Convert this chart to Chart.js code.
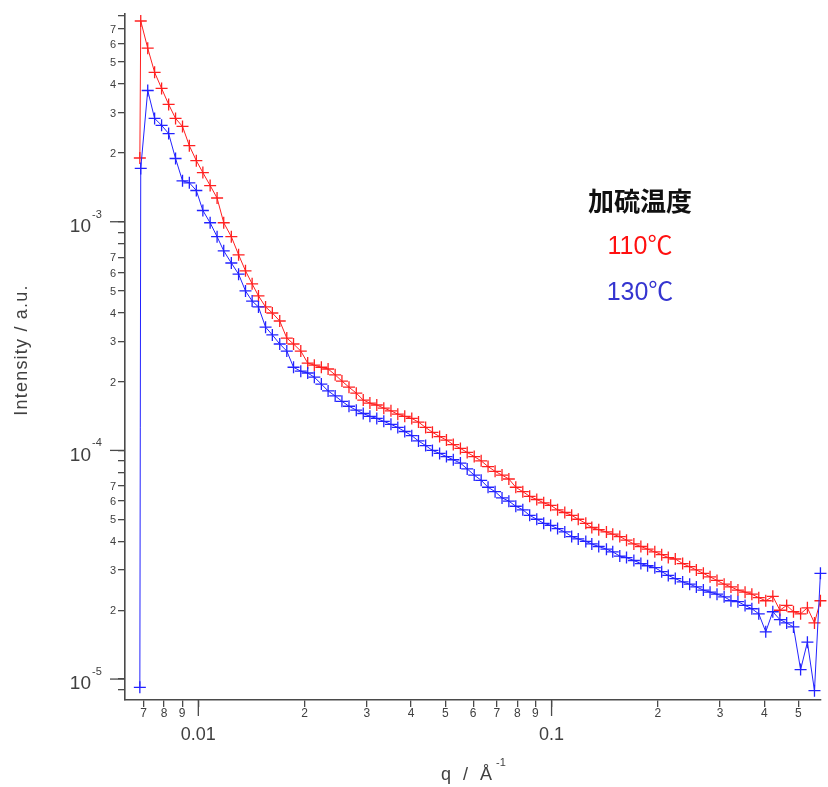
<!DOCTYPE html>
<html>
<head>
<meta charset="utf-8">
<script src="https://cdn.jsdelivr.net/npm/chart.js@4.4.1/dist/chart.umd.min.js"></script>
<style>
  html, body { margin: 0; padding: 0; background: #ffffff; }
  #wrap { width: 828px; height: 787px; position: relative; }
</style>
</head>
<body>
<div id="wrap"><canvas id="c" width="828" height="787"></canvas></div>
<script>
// ---- data ----
const q = [0.00683, 0.00687, 0.00719, 0.00752, 0.00787, 0.00824, 0.00862, 0.00902, 0.00943, 0.00987,
  0.0103, 0.0108, 0.0113, 0.0118, 0.0124, 0.0130, 0.0136, 0.0142, 0.0148, 0.0155,
  0.0162, 0.0170, 0.0178, 0.0186, 0.0195, 0.0204, 0.0213, 0.0223, 0.0233, 0.0244,
  0.0255, 0.0267, 0.0280, 0.0293, 0.0306, 0.0320, 0.0335, 0.0351, 0.0367, 0.0384,
  0.0402, 0.0420, 0.0440, 0.0460, 0.0482, 0.0504, 0.0527, 0.0552, 0.0577, 0.0604,
  0.0632, 0.0661, 0.0692, 0.0724, 0.0757, 0.0792, 0.0829, 0.0867, 0.0908, 0.0950,
  0.0994, 0.104, 0.109, 0.114, 0.119, 0.125, 0.130, 0.136, 0.143, 0.149,
  0.156, 0.163, 0.171, 0.179, 0.187, 0.196, 0.205, 0.214, 0.224, 0.235,
  0.246, 0.257, 0.269, 0.281, 0.294, 0.308, 0.322, 0.337, 0.353, 0.369,
  0.386, 0.404, 0.423, 0.443, 0.463, 0.484, 0.507, 0.530, 0.555, 0.577];

const i110 = [1.9e-3, 7.55e-3, 5.74e-3, 4.5e-3, 3.83e-3, 3.26e-3, 2.83e-3, 2.61e-3, 2.15e-3, 1.85e-3,
  1.64e-3, 1.44e-3, 1.27e-3, 9.9e-4, 8.6e-4, 7.17e-4, 6.1e-4, 5.35e-4, 4.74e-4, 4.24e-4,
  3.99e-4, 3.68e-4, 3.10e-4, 2.92e-4, 2.72e-4, 2.41e-4, 2.36e-4, 2.31e-4, 2.27e-4, 2.14e-4,
  2.01e-4, 1.89e-4, 1.78e-4, 1.66e-4, 1.61e-4, 1.58e-4, 1.53e-4, 1.49e-4, 1.44e-4, 1.41e-4,
  1.38e-4, 1.33e-4, 1.26e-4, 1.20e-4, 1.15e-4, 1.11e-4, 1.06e-4, 1.02e-4, 9.8e-5, 9.4e-5,
  9.0e-5, 8.5e-5, 8.1e-5, 7.8e-5, 7.5e-5, 6.9e-5, 6.6e-5, 6.3e-5, 6.1e-5, 5.9e-5,
  5.75e-5, 5.5e-5, 5.35e-5, 5.2e-5, 5.0e-5, 4.8e-5, 4.6e-5, 4.5e-5, 4.4e-5, 4.3e-5,
  4.2e-5, 4.05e-5, 3.9e-5, 3.8e-5, 3.7e-5, 3.6e-5, 3.5e-5, 3.4e-5, 3.35e-5, 3.2e-5,
  3.1e-5, 3.0e-5, 2.9e-5, 2.8e-5, 2.7e-5, 2.6e-5, 2.53e-5, 2.45e-5, 2.4e-5, 2.35e-5,
  2.27e-5, 2.2e-5, 2.3e-5, 2.0e-5, 2.1e-5, 1.97e-5, 1.93e-5, 2.05e-5, 1.76e-5, 2.2e-5];

const i130 = [9.2e-6, 1.71e-3, 3.75e-3, 2.83e-3, 2.64e-3, 2.43e-3, 1.89e-3, 1.51e-3, 1.48e-3, 1.37e-3,
  1.12e-3, 9.9e-4, 8.6e-4, 7.46e-4, 6.6e-4, 5.9e-4, 4.98e-4, 4.5e-4, 4.24e-4, 3.46e-4,
  3.2e-4, 2.92e-4, 2.72e-4, 2.31e-4, 2.22e-4, 2.18e-4, 2.09e-4, 1.95e-4, 1.82e-4, 1.73e-4,
  1.64e-4, 1.56e-4, 1.50e-4, 1.45e-4, 1.41e-4, 1.38e-4, 1.34e-4, 1.30e-4, 1.26e-4, 1.21e-4,
  1.16e-4, 1.10e-4, 1.05e-4, 1.0e-4, 9.7e-5, 9.4e-5, 9.1e-5, 8.8e-5, 8.3e-5, 7.8e-5,
  7.4e-5, 6.9e-5, 6.6e-5, 6.2e-5, 6.0e-5, 5.7e-5, 5.5e-5, 5.2e-5, 5.0e-5, 4.8e-5,
  4.7e-5, 4.55e-5, 4.4e-5, 4.2e-5, 4.1e-5, 4.0e-5, 3.9e-5, 3.8e-5, 3.7e-5, 3.6e-5,
  3.45e-5, 3.4e-5, 3.3e-5, 3.2e-5, 3.13e-5, 3.07e-5, 2.95e-5, 2.84e-5, 2.75e-5, 2.66e-5,
  2.6e-5, 2.53e-5, 2.45e-5, 2.4e-5, 2.35e-5, 2.29e-5, 2.2e-5, 2.18e-5, 2.1e-5, 2.03e-5,
  1.93e-5, 1.61e-5, 1.97e-5, 1.82e-5, 1.76e-5, 1.69e-5, 1.1e-5, 1.45e-5, 8.9e-6, 2.9e-5];

const seriesNames = ['110℃', '130℃'];
const legendTitle = '加硫温度';

const xTickValues = [0.007, 0.008, 0.009, 0.01, 0.02, 0.03, 0.04, 0.05, 0.06, 0.07, 0.08, 0.09, 0.1, 0.2, 0.3, 0.4, 0.5];
const xTickLabels = ['7', '8', '9', '0.01', '2', '3', '4', '5', '6', '7', '8', '9', '0.1', '2', '3', '4', '5'];

const yTickValues = [9e-6, 1e-5, 2e-5, 3e-5, 4e-5, 5e-5, 6e-5, 7e-5, 8e-5, 9e-5,
  1e-4, 2e-4, 3e-4, 4e-4, 5e-4, 6e-4, 7e-4, 8e-4, 9e-4,
  1e-3, 2e-3, 3e-3, 4e-3, 5e-3, 6e-3, 7e-3, 8e-3];
const yTickLabels = ['', '10^-5', '2', '3', '4', '5', '6', '7', '', '',
  '10^-4', '2', '3', '4', '5', '6', '7', '', '',
  '10^-3', '2', '3', '4', '5', '6', '7', ''];

const xTitle = ['q / Å', '-1'];
const yTitle = 'Intensity / a.u.';

// ---- rendering ----
const AXIS = '#4a4a4a';
const TXT = '#404040';
const SANS = '"Liberation Sans", Arial, sans-serif';

const axisText = {
  id: 'axisText',
  afterDraw(chart) {
    const { ctx, chartArea: a, scales: { x, y } } = chart;
    ctx.save();
    ctx.strokeStyle = AXIS;
    ctx.lineWidth = 1.3;
    ctx.fillStyle = TXT;
    // x ticks labels
    xTickValues.forEach((v, i) => {
      const px = x.getPixelForValue(v);
      const lab = xTickLabels[i];
      if (lab.indexOf('.') >= 0) {
        ctx.beginPath(); ctx.moveTo(px, a.bottom); ctx.lineTo(px, a.bottom + 16); ctx.stroke();
        ctx.font = '18px ' + SANS; ctx.textAlign = 'center'; ctx.textBaseline = 'middle';
        ctx.fillText(lab, px, a.bottom + 35);
      } else {
        ctx.font = '12px ' + SANS; ctx.textAlign = 'center'; ctx.textBaseline = 'middle';
        ctx.fillText(lab, px, a.bottom + 14);
      }
    });
    // y tick labels
    yTickValues.forEach((v, i) => {
      const py = y.getPixelForValue(v);
      const lab = yTickLabels[i];
      if (!lab) return;
      if (lab.indexOf('^') >= 0) {
        const parts = lab.split('^');
        ctx.beginPath(); ctx.moveTo(a.left, py); ctx.lineTo(a.left - 15, py); ctx.stroke();
        ctx.font = '19px ' + SANS; ctx.textAlign = 'right'; ctx.textBaseline = 'middle';
        ctx.fillText(parts[0], 91, py + 5);
        ctx.font = '11px ' + SANS; ctx.textAlign = 'left';
        ctx.fillText(parts[1], 92, py - 7);
      } else {
        ctx.font = '11px ' + SANS; ctx.textAlign = 'right'; ctx.textBaseline = 'middle';
        ctx.fillText(lab, a.left - 9, py + 1);
      }
    });
    // axis titles
    ctx.textAlign = 'center'; ctx.textBaseline = 'middle';
    ctx.save();
    ctx.font = '18px ' + SANS;
    ctx.letterSpacing = '1.2px';
    ctx.translate(22, 350);
    ctx.rotate(-Math.PI / 2);
    ctx.fillText(yTitle, 0, 0);
    ctx.restore();
    ctx.save();
    ctx.font = '18px ' + SANS; ctx.textAlign = 'left';
    ctx.letterSpacing = '3.5px';
    ctx.fillText(xTitle[0], 441, 775);
    ctx.restore();
    ctx.font = '11px ' + SANS; ctx.textAlign = 'left'; ctx.textBaseline = 'middle';
    ctx.fillText(xTitle[1], 496, 763);
    // legend-like annotation
    ctx.textAlign = 'center'; ctx.textBaseline = 'middle';
    ctx.fillStyle = '#111111';
    ctx.font = 'bold 26px "Noto Sans CJK JP", sans-serif';
    ctx.fillText(legendTitle, 640, 201);
    ctx.font = '25px "Liberation Sans", "Noto Sans CJK JP", sans-serif';
    ctx.fillStyle = '#ff1010';
    ctx.fillText(seriesNames[0], 640, 247);
    ctx.fillStyle = '#3535d0';
    ctx.fillText(seriesNames[1], 640, 293);
    ctx.restore();
  }
};

const mkTicks = (vals) => (scale) => { scale.ticks = vals.map(v => ({ value: v })); };

new Chart(document.getElementById('c'), {
  type: 'scatter',
  data: {
    datasets: [
      {
        label: seriesNames[1],
        data: q.map((v, i) => ({ x: v, y: i130[i] })),
        showLine: true,
        borderColor: '#2222ff',
        backgroundColor: '#2222ff',
        borderWidth: 1,
        pointStyle: 'cross',
        pointRadius: 6,
        pointBorderWidth: 1.3,
        clip: false
      },
      {
        label: seriesNames[0],
        data: q.map((v, i) => ({ x: v, y: i110[i] })),
        showLine: true,
        borderColor: '#ff2020',
        backgroundColor: '#ff2020',
        borderWidth: 1,
        pointStyle: 'cross',
        pointRadius: 6,
        pointBorderWidth: 1.3,
        clip: false
      }
    ]
  },
  options: {
    responsive: false,
    animation: false,
    layout: { padding: { left: 118, top: 14, right: 2, bottom: 80 } },
    plugins: { legend: { display: false }, tooltip: { enabled: false } },
    scales: {
      x: {
        type: 'logarithmic',
        min: 0.0062, max: 0.578,
        afterBuildTicks: mkTicks(xTickValues),
        ticks: { display: false },
        grid: { drawOnChartArea: false, drawTicks: true, tickLength: 7, color: AXIS, tickColor: AXIS, lineWidth: 1.3 },
        border: { display: true, color: AXIS, width: 1.6 }
      },
      y: {
        type: 'logarithmic',
        min: 8.1e-6, max: 8.1e-3,
        afterBuildTicks: mkTicks(yTickValues),
        ticks: { display: false },
        grid: { drawOnChartArea: false, drawTicks: true, tickLength: 7, color: AXIS, tickColor: AXIS, lineWidth: 1.3 },
        border: { display: true, color: AXIS, width: 1.6 }
      }
    }
  },
  plugins: [axisText]
});
</script>
</body>
</html>
